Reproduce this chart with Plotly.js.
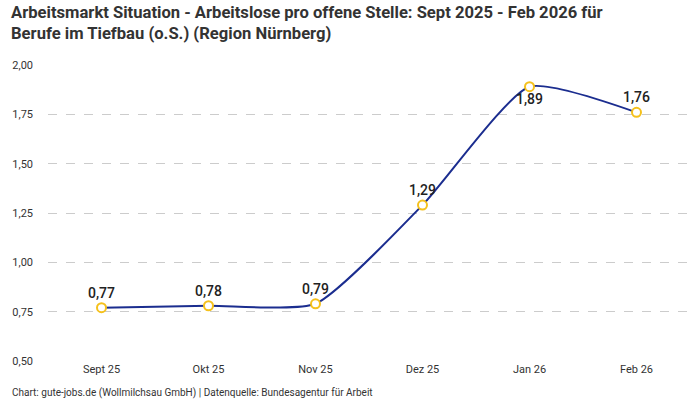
<!DOCTYPE html>
<html><head><meta charset="utf-8">
<script src="https://cdn.plot.ly/plotly-3.0.1.min.js"></script>
<style>html,body{margin:0;padding:0;background:#fff}#chart{width:700px;height:400px}</style>
</head><body><div id="chart"></div>
<script>
const months = ["Sept 25","Okt 25","Nov 25","Dez 25","Jan 26","Feb 26"];
const values = [0.77, 0.78, 0.79, 1.29, 1.89, 1.76];
const labelPos = ["top center","top center","top center","top center","bottom center","top center"];
const yTicks = [0.5, 0.75, 1.0, 1.25, 1.5, 1.75, 2.0];
const titleLines = ["Arbeitsmarkt Situation - Arbeitslose pro offene Stelle: Sept 2025 - Feb 2026 für",
                    "Berufe im Tiefbau (o.S.) (Region Nürnberg)"];
const footer = "Chart: gute-jobs.de (Wollmilchsau GmbH) | Datenquelle: Bundesagentur für Arbeit";

const trace = {
  x: months, y: values, type: "scatter", mode: "lines+markers+text",
  line: {shape: "spline", smoothing: 0.55, color: "#1b2d8f", width: 2},
  marker: {size: 9, color: "#ffffff", line: {color: "#f5c11c", width: 2}},
  text: values.map(v => v.toFixed(2).replace(".", ",")),
  textposition: labelPos,
  textfont: {family: "Roboto, sans-serif", size: 14, color: "#222", weight: 500},
  cliponaxis: false, hoverinfo: "skip"
};

const titleFont = {family: "Roboto, sans-serif", size: 16.6, color: "#333", weight: "bold"};
const layout = {
  width: 700, height: 400,
  margin: {l: 48, r: 10, t: 65, b: 39},
  paper_bgcolor: "#fff", plot_bgcolor: "#fff",
  separators: ",.",
  font: {family: "Roboto, sans-serif", color: "#333"},
  xaxis: {type: "category", range: [-0.5, 5.5], showgrid: false, zeroline: false, showline: false,
    ticks: "", tickfont: {size: 11, color: "#333"}, fixedrange: true},
  yaxis: {range: [0.5, 2.0], tickvals: yTicks, tickformat: ".2f", showgrid: true,
    gridcolor: "#cccccc", griddash: "dash", gridwidth: 1, zeroline: false, showline: false,
    ticks: "", ticklabelstandoff: 14, tickfont: {size: 11, color: "#333"}, fixedrange: true},
  showlegend: false,
  annotations: [
    {text: titleLines[0], xref: "paper", yref: "paper", x: -0.06, y: 1.176, xanchor: "left", yanchor: "middle",
     showarrow: false, font: titleFont},
    {text: titleLines[1], xref: "paper", yref: "paper", x: -0.06, y: 1.108, xanchor: "left", yanchor: "middle",
     showarrow: false, font: titleFont},
    {text: footer, xref: "paper", yref: "paper", x: -0.059, y: -0.108, xanchor: "left", yanchor: "middle",
     showarrow: false, font: {size: 10, color: "#333"}}]
};
Plotly.newPlot("chart", [trace], layout, {displayModeBar: false, staticPlot: true});
</script></body></html>
